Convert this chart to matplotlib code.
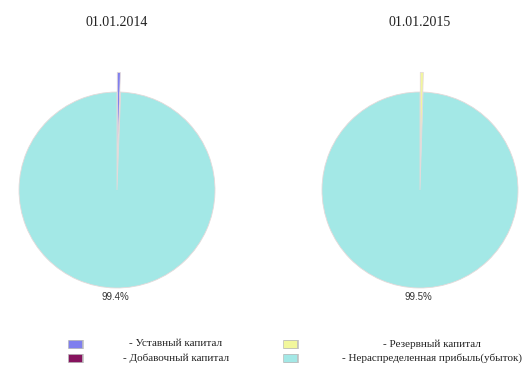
import matplotlib
matplotlib.use('Agg')
import matplotlib.pyplot as plt
from matplotlib.patches import Rectangle

# data
labels = ['Уставный капитал', 'Добавочный капитал',
          'Резервный капитал', 'Нераспределенная прибыль(убыток)']
dates = ['01.01.2014', '01.01.2015']
values_2014 = [0.5, 0.1, 0.0, 99.4]
values_2015 = [0.0, 0.0, 0.5, 99.5]
explode_2014 = [0.2, 0, 0, 0]
explode_2015 = [0, 0, 0.2, 0]
colors = ['#7f7fee', '#86135e', '#f2f79c', '#a3e8e6']

W, H = 530, 384
fig = plt.figure(figsize=(W / 100, H / 100), dpi=100)


def pie_at(cx, cy, r, vals, expl, title):
    # square axes in pixel coords, pie radius 1 maps to r pixels
    span = 1.45
    size = r * span * 2
    ax = fig.add_axes([(cx - size / 2) / W, 1 - (cy + size / 2) / H, size / W, size / H])
    ax.pie(vals, colors=colors, explode=expl, startangle=90, counterclock=False,
           autopct=lambda p: f'{p:.1f}%' if p > 50 else '', pctdistance=1.09,
           wedgeprops=dict(edgecolor='#e4dada', linewidth=0.6),
           textprops=dict(fontsize=7, family='Liberation Sans', color='#333333'))
    ax.set_xlim(-span, span)
    ax.set_ylim(-span, span)
    ax.set_aspect('equal')
    ax.axis('off')
    fig.text(cx / W, 1 - 23 / H, title, ha='center', va='center',
             fontsize=10, family='Liberation Serif', color='#222222')


pie_at(117, 190, 98, values_2014, explode_2014, dates[0])
pie_at(420, 190, 98, values_2015, explode_2015, dates[1])

# legend drawn by hand
rows = [344, 358]
legend_pos = [(68, 176, rows[0]), (68, 176, rows[1]), (283, 432, rows[0]), (283, 432, rows[1])]
for (sx, tx, y), lab, col in zip(legend_pos, labels, colors):
    fig.patches.append(Rectangle(((sx + 1) / W, 1 - (y + 5) / H), 15 / W, 9 / H,
                                 transform=fig.transFigure, facecolor='#cccccc',
                                 edgecolor='none'))
    fig.patches.append(Rectangle((sx / W, 1 - (y + 4) / H), 14 / W, 8 / H,
                                 transform=fig.transFigure, facecolor=col,
                                 edgecolor='#bbbbbb', linewidth=0.5))
    fig.text(tx / W, 1 - y / H, '- ' + lab, ha='center', va='center',
             fontsize=8, family='Liberation Serif', color='#222222')

fig.savefig('out.png', dpi=100)
